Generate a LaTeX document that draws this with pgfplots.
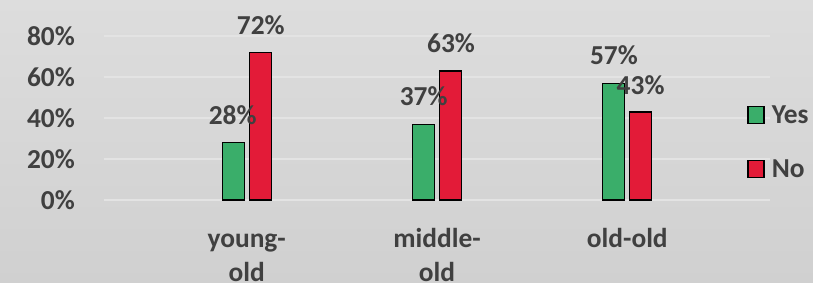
\documentclass[border=0pt]{standalone}
\usepackage{pgfplots}
\pgfplotsset{compat=1.18}
\usepackage{fontspec}
\setmainfont{Carlito}
\definecolor{bgtop}{HTML}{DDDDDD}
\definecolor{bgbot}{HTML}{D0D0D0}
\definecolor{yesc}{HTML}{3AAE6A}
\definecolor{noc}{HTML}{E31B38}
\definecolor{txt}{HTML}{404040}
\definecolor{gridc}{HTML}{E3E3E3}
\begin{document}
\begin{tikzpicture}
\shade[top color=bgtop, bottom color=bgbot] (0,0) rectangle (813bp,283bp);
\path[use as bounding box] (0,0) rectangle (813bp,283bp);
\begin{axis}[
  at={(104bp,83bp)}, anchor=south west,
  scale only axis, width=666bp, height=164bp,
  xmin=-0.75, xmax=2.75, ymin=0, ymax=80,
  clip=false,
  axis line style={draw=none},
  major tick length=0pt,
  ymajorgrids, grid style={gridc, line width=1.2bp},
  ytick={20,40,60,80},
  extra y ticks={0}, extra y tick style={grid style={gridc,line width=1.2bp}},
  extra y tick labels={0\%},
  yticklabels={20\%,40\%,60\%,80\%},
  yticklabel style={font=\fontsize{27.5}{33}\selectfont\bfseries, text=txt, anchor=east, inner sep=0pt, xshift=-29bp},
  xtick={0,1,2},
  xticklabels={\rule{0pt}{20bp}young-\\old, \rule{0pt}{20bp}middle-\\old, \rule{0pt}{20bp}old-old},
  xticklabel style={font=\fontsize{27.5}{34}\selectfont\bfseries, text=txt, align=center, anchor=north, inner sep=0pt, yshift=-27bp},
  bar width=22bp,
  legend style={at={(0.9655,0.59)}, anchor=north west, draw=none, fill=none, font=\fontsize{27.5}{33}\selectfont\bfseries, text=txt, row sep=31bp, inner sep=0pt, legend cell align=left},
  legend image code/.code={\draw[#1] (0bp,-8.5bp) rectangle (16bp,8.5bp); \path[draw=none,fill=none] (0bp,0bp) -- (22bp,0bp);},
]
\addplot[ybar, bar shift=-13.5bp, fill=yesc, draw=black, line width=1.3bp] coordinates {(0,28) (1,37) (2,57)};
\addlegendentry{Yes}
\addplot[ybar, bar shift=13.5bp, fill=noc, draw=black, line width=1.3bp] coordinates {(0,72) (1,63) (2,43)};
\addlegendentry{No}
\begin{scope}[every node/.style={font=\fontsize{27.5}{33}\selectfont\bfseries, text=txt, inner sep=0pt}]
\node at (axis cs:0.074,85.4) {72\%};
\node at (axis cs:-0.074,41.5) {28\%};
\node at (axis cs:1.074,76.6) {63\%};
\node at (axis cs:0.93,50.7) {37\%};
\node at (axis cs:1.93,70.7) {57\%};
\node at (axis cs:2.07,56.1) {43\%};
\end{scope}
\end{axis}
\end{tikzpicture}
\end{document}
